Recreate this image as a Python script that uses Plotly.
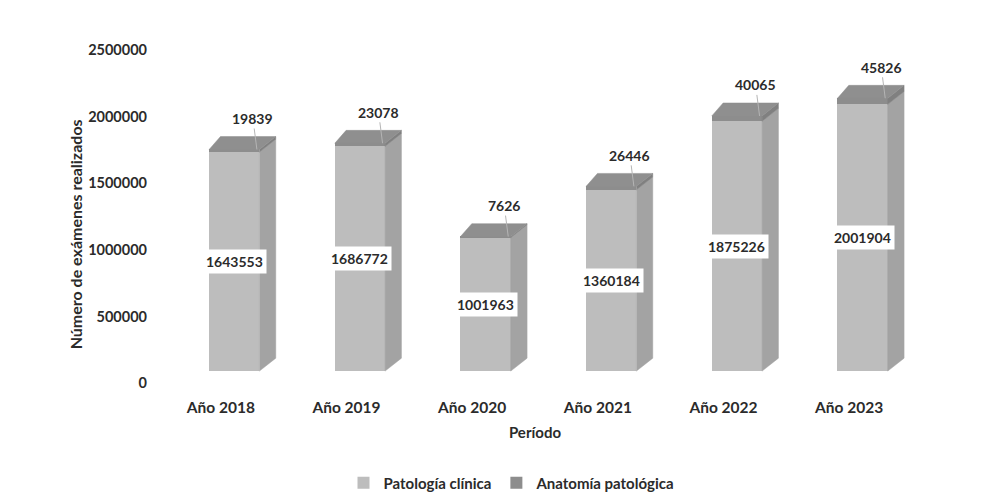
import plotly.graph_objects as go

# ---- data ----
periods = ["Año 2018", "Año 2019", "Año 2020", "Año 2021", "Año 2022", "Año 2023"]
patologia_clinica = [1643553, 1686772, 1001963, 1360184, 1875226, 2001904]
anatomia_patologica = [19839, 23078, 7626, 26446, 40065, 45826]
y_ticks = [0, 500000, 1000000, 1500000, 2000000, 2500000]

# ---- styling (3D look) ----
BAR_W = 0.40
BAR_SHIFT = 0.107          # bars sit a bit right of their category label
DX_SIDE = 0.13             # depth of the side face (x units)
DX_BACK = 0.09             # back-left corner shift of the top face
DY = 97000                 # depth of the 3D face (y units)
FRONT_PC = "#bdbdbd"
FRONT_AP = "#8d8d8d"
SIDE_PC = "#a3a3a3"
SIDE_AP = "#808080"
TOP = "#8f8f8f"
TXT = "#2b2b2b"
FONT = "Lato"

xs = list(range(len(periods)))
totals = [a + b for a, b in zip(patologia_clinica, anatomia_patologica)]


def f(size):
    return dict(size=size, color=TXT, family=FONT, weight="bold")


fig = go.Figure()
fig.add_trace(go.Bar(
    x=xs, y=patologia_clinica, name="Patología clínica",
    width=BAR_W, offset=-BAR_W / 2 + BAR_SHIFT,
    marker=dict(color=FRONT_PC, line=dict(width=0)), hoverinfo="y"))
fig.add_trace(go.Bar(
    x=xs, y=anatomia_patologica, name="Anatomía patológica",
    width=BAR_W, offset=-BAR_W / 2 + BAR_SHIFT,
    marker=dict(color=FRONT_AP, line=dict(width=0)), hoverinfo="y"))


def poly_trace(polys, color):
    px, py = [], []
    for p in polys:
        for (a, b) in p + [p[0]]:
            px.append(a)
            py.append(b)
        px.append(None)
        py.append(None)
    return go.Scatter(x=px, y=py, mode="lines", fill="toself", fillcolor=color,
                      line=dict(width=0.5, color=color), showlegend=False,
                      hoverinfo="skip")


side_pc, side_ap, tops = [], [], []
for i, pc, tot in zip(xs, patologia_clinica, totals):
    L = i - BAR_W / 2 + BAR_SHIFT
    R = L + BAR_W
    side_pc.append([(R, 0), (R + DX_SIDE, DY), (R + DX_SIDE, pc + DY), (R, pc)])
    side_ap.append([(R, pc), (R + DX_SIDE, pc + DY), (R + DX_SIDE, tot + DY), (R, tot)])
    tops.append([(L, tot), (R, tot), (R + DX_SIDE, tot + DY), (L + DX_BACK, tot + DY)])

fig.add_trace(poly_trace(side_pc, SIDE_PC))
fig.add_trace(poly_trace(side_ap, SIDE_AP))
fig.add_trace(poly_trace(tops, TOP))

annotations = []
for i, pc, ap, tot in zip(xs, patologia_clinica, anatomia_patologica, totals):
    annotations.append(dict(
        x=i + BAR_SHIFT, y=pc / 2, xref="x", yref="y", text=str(pc),
        showarrow=False, bgcolor="white", borderpad=3, font=f(14)))
    annotations.append(dict(
        x=i + BAR_SHIFT + BAR_W / 2 - 0.02, y=tot, xref="x", yref="y", text=str(ap),
        showarrow=True, arrowhead=0, arrowwidth=1, arrowcolor="#b5b5b5",
        ax=-4, ay=-31, font=f(14)))

annotations.append(dict(
    x=-0.110, y=0.431, xref="paper", yref="paper", xanchor="center", yanchor="middle",
    text="Número de exámenes realizados", textangle=-90, showarrow=False,
    font=f(16)))

fig.update_layout(
    width=984, height=504,
    margin=dict(l=150, r=80, t=30, b=126),
    paper_bgcolor="white", plot_bgcolor="white",
    font=f(14),
    barmode="stack",
    showlegend=True,
    legend=dict(orientation="h", x=0.4695, xanchor="center", y=-0.29,
                yanchor="middle", itemwidth=30, traceorder="normal",
                font=f(15)),
    annotations=annotations,
    xaxis=dict(range=[-0.5, 5.5], tickvals=xs, ticktext=periods,
               showgrid=False, zeroline=False, showline=False, ticks="",
               ticklabelstandoff=13, tickfont=f(15.5),
               title=dict(text="Período", standoff=12, font=f(15))),
    yaxis=dict(range=[-89286, 2500000], tickvals=y_ticks,
               ticktext=[str(v) for v in y_ticks],
               showgrid=False, zeroline=False, showline=False, ticks="",
               ticklabelshift=12, ticklabelstandoff=10, tickfont=f(14.5)),
)

fig.write_html("out.html")
